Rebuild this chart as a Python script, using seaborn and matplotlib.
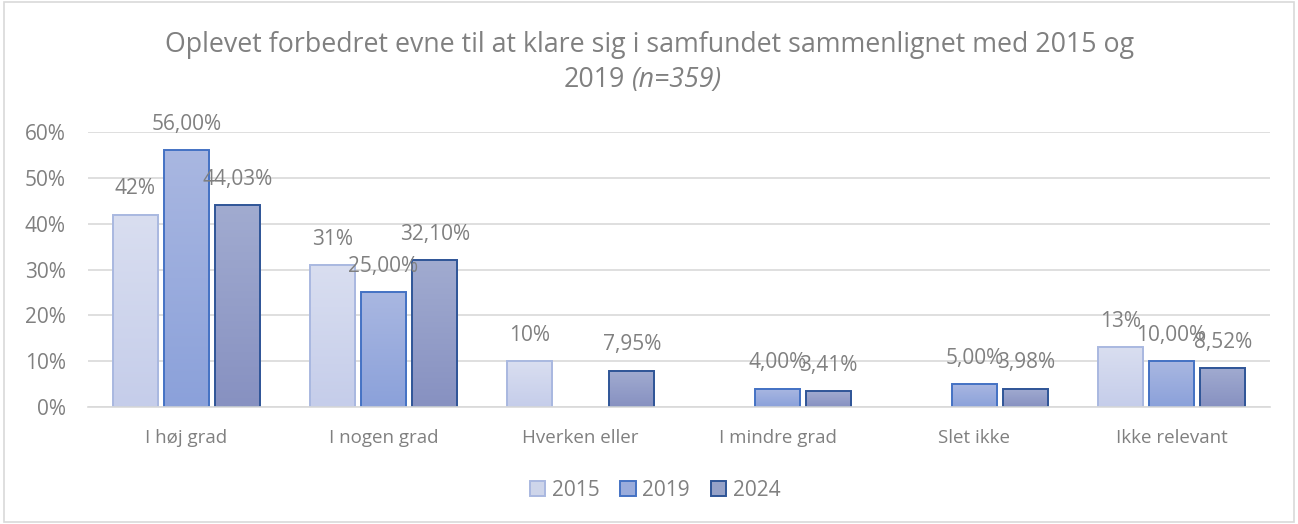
import pandas as pd
import numpy as np
import seaborn as sns
import matplotlib.pyplot as plt
from matplotlib.patches import Rectangle, Patch
from matplotlib.colors import to_rgb

# Data
kategorier = ['I høj grad', 'I nogen grad', 'Hverken eller', 'I mindre grad', 'Slet ikke', 'Ikke relevant']
aar = ['2015', '2019', '2024']
v2015 = [0.42, 0.31, 0.10, np.nan, np.nan, 0.13]
v2019 = [0.56, 0.25, np.nan, 0.04, 0.05, 0.10]
v2024 = [0.4403, 0.3210, 0.0795, 0.0341, 0.0398, 0.0852]
decimaler = {'2015': 0, '2019': 2, '2024': 2}

fill = {'2015': '#CED5EA', '2019': '#9AACDC', '2024': '#96A2C8'}
top_c = {'2015': '#D9DEF0', '2019': '#A9B7E1', '2024': '#A1ABD0'}
bot_c = {'2015': '#C5CDEA', '2019': '#8BA1DA', '2024': '#8791C1'}
edge = {'2015': '#A9B8E0', '2019': '#4472C4', '2024': '#2F5597'}
grey = '#808080'

df = pd.DataFrame({
    'Kategori': kategorier * 3,
    'År': [a for a in aar for _ in kategorier],
    'Andel': v2015 + v2019 + v2024,
})
df = df.dropna()

sns.set_style('white')
plt.rcParams['font.family'] = ['Open Sans', 'DejaVu Sans']

fig = plt.figure(figsize=(12.98, 5.24), dpi=100)
ax = fig.add_axes([88 / 1298, 1 - 407 / 524, (1270 - 88) / 1298, (407 - 132) / 524])

sns.barplot(data=df, x='Kategori', y='Andel', hue='År', order=kategorier, hue_order=aar,
            palette=fill, width=0.78, gap=0.12, ax=ax, legend=False, saturation=1)

# gradient fill inside each bar, like the Excel original
for cont, a in zip(ax.containers, aar):
    c1, c2 = np.array(to_rgb(top_c[a])), np.array(to_rgb(bot_c[a]))
    grad = np.linspace(0, 1, 64)[:, None, None] * (c2 - c1) + c1
    for bar in cont:
        x0, w, h = bar.get_x(), bar.get_width(), bar.get_height()
        ax.imshow(grad, extent=[x0, x0 + w, 0, h], aspect='auto', interpolation='bilinear',
                  zorder=1.5, origin='upper')
        bar.set_facecolor('none')
        bar.set_edgecolor(edge[a])
        bar.set_linewidth(1.4)
        bar.set_zorder(2)
    d = decimaler[a]
    labs = [f'{bar.get_height() * 100:.{d}f}%'.replace('.', ',') for bar in cont]
    ax.bar_label(cont, labels=labs, padding=11, color=grey, fontsize=15)

ax.set_ylim(0, 0.6)
ax.set_xlim(-0.5, 5.5)
ax.set_yticks(np.arange(0, 0.61, 0.1))
ax.set_yticklabels([f'{int(round(t * 100))}%' for t in np.arange(0, 0.61, 0.1)])
ax.yaxis.grid(True, color='#D9D9D9', linewidth=1.2)
ax.set_axisbelow(True)
for s in ['top', 'right', 'left']:
    ax.spines[s].set_visible(False)
ax.spines['bottom'].set_color('#D9D9D9')
ax.spines['bottom'].set_linewidth(1.2)
ax.tick_params(axis='both', length=0, colors=grey)
ax.tick_params(axis='y', labelsize=15, pad=16)
ax.tick_params(axis='x', labelsize=13.5, pad=16)
ax.set_xlabel('')
ax.set_ylabel('')

# Title
fig.text(650 / 1298, 1 - 45 / 524, 'Oplevet forbedret evne til at klare sig i samfundet sammenlignet med 2015 og',
         ha='center', va='center', fontsize=19.3, color=grey)
fig.text(625 / 1298, 1 - 80 / 524, '2019', ha='right', va='center', fontsize=19.3, color=grey)
fig.text(632 / 1298, 1 - 80 / 524, '(n=359)', ha='left', va='center', fontsize=19.3, color=grey, style='italic')

# Legend
handles = [Patch(facecolor=fill[a], edgecolor=edge[a], linewidth=1.4, label=a) for a in aar]
fig.legend(handles=handles, loc='center', bbox_to_anchor=(655 / 1298, 1 - 490 / 524), ncol=3, frameon=False,
           fontsize=15, labelcolor=grey, handlelength=0.75, handleheight=0.75, handletextpad=0.3,
           columnspacing=1.0)

# Chart frame
fig.patches.append(Rectangle((0.003, 0.004), 0.994, 0.992, transform=fig.transFigure, fill=False,
                             edgecolor='#D9D9D9', linewidth=1.2))

fig.savefig('out.png', dpi=100)
